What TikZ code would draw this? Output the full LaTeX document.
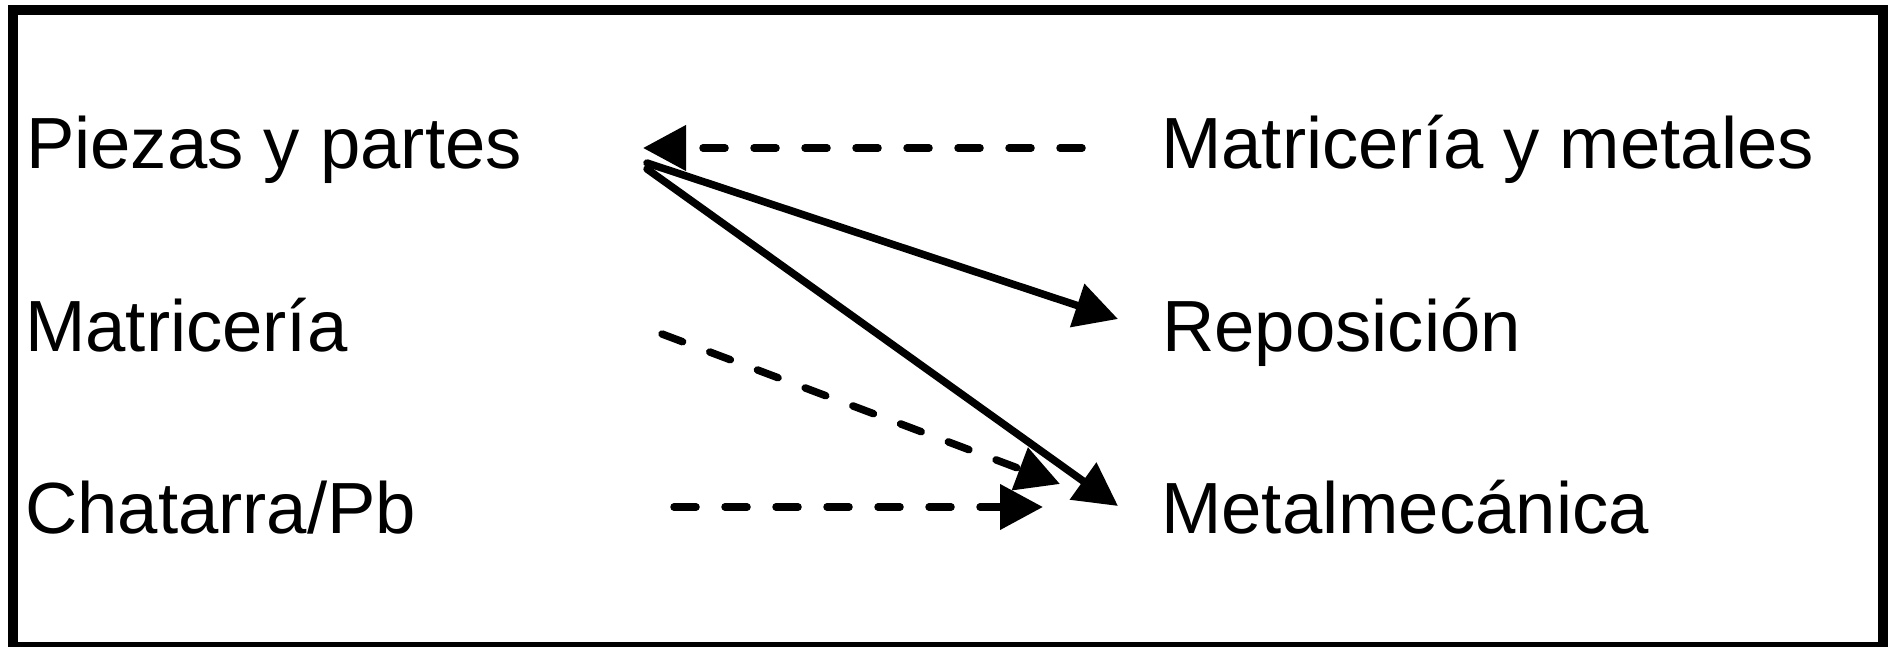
\documentclass[tikz,border=0pt]{standalone}
\usepackage{fontspec}
\setmainfont{Liberation Sans}
\usetikzlibrary{arrows.meta}
\begin{document}
\begin{tikzpicture}[x=1pt,y=-1pt,
  lbl/.style={anchor=base west,inner sep=0pt,font=\fontsize{72.5}{80}\selectfont},
  conn/.style={line width=7.5pt,line cap=round,-{Triangle[length=43pt,width=44pt]}},
  dashconn/.style={conn,dash pattern=on 22pt off 29pt}]
\useasboundingbox (0,0) rectangle (1895,647);
\draw[line width=10pt] (13,10) rectangle (1883,647);
% left column
\node[lbl] (pz) at (26,169) {Piezas y partes};
\node[lbl] (mt) at (25,351) {Matricería};
\node[lbl] (ch) at (25,533) {Chatarra/Pb};
% right column
\node[lbl] (mm) at (1161,169) {Matricería y metales};
\node[lbl] (rp) at (1162,351) {Reposición};
\node[lbl] (me) at (1161,533) {Metalmecánica};
% connector end points
\coordinate (pzin)  at (643,148);
\coordinate (mmout) at (1082,148);
\coordinate (pzo1)  at (647,163);
\coordinate (pzo2)  at (647,169);
\coordinate (rpin)  at (1118,319);
\coordinate (mein1) at (1118,506);
\coordinate (mtout) at (662,334);
\coordinate (mein2) at (1060,484);
\coordinate (chout) at (674,507);
\coordinate (mein3) at (1043,507);
% connectors
\draw[dashconn] (mmout) -- (pzin);
\draw[conn] (pzo1) -- (rpin);
\draw[conn] (pzo2) -- (mein1);
\draw[dashconn] (mtout) -- (mein2);
\draw[dashconn] (chout) -- (mein3);
\end{tikzpicture}
\end{document}
